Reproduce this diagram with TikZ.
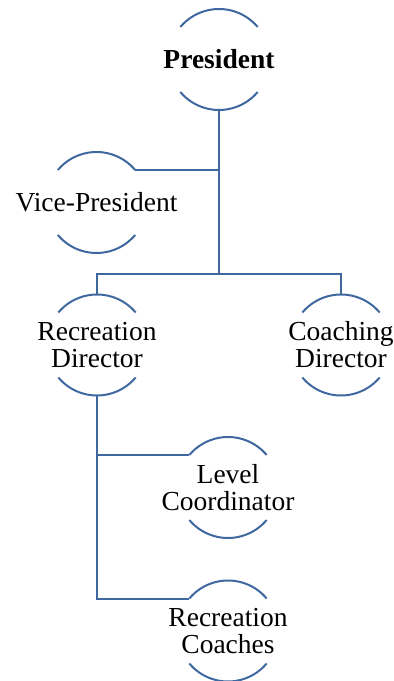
\documentclass[tikz,border=0pt]{standalone}
\usepackage{fontspec}
\setmainfont{Liberation Serif}
\usepackage{xcolor}
\definecolor{ringblue}{RGB}{63,104,160}

\begin{document}
\begin{tikzpicture}[x=1pt, y=1pt,
    ring_node/.style={circle, minimum size=101pt, inner sep=0pt, outer sep=0pt},
    ring_text/.style={align=center, font=\fontsize{27.5}{27}\selectfont},
    ring_bold/.style={align=center, font=\fontsize{27.5}{27}\selectfont\bfseries},
    ring_line/.style={draw=ringblue, line width=2pt}]

    \useasboundingbox (0,0) rectangle (394,681);

    \node[ring_node, label={[ring_bold]center:President}] (president) at (219, 621.5) {};
    \node[ring_node, label={[ring_text]center:Vice-President}] (vp) at (96.5, 478.5) {};
    \node[ring_node, label={[ring_text]center:Recreation\\Director}] (recdir) at (97, 336) {};
    \node[ring_node, label={[ring_text]center:Coaching\\Director}] (coachdir) at (341, 336) {};
    \node[ring_node, label={[ring_text]center:Level\\Coordinator}] (level) at (228, 193.5) {};
    \node[ring_node, label={[ring_text]center:Recreation\\Coaches}] (coaches) at (228, 50) {};
    \coordinate (bar) at (219, 407);

    \foreach \n in {president, vp, recdir, coachdir, level, coaches} {
        \draw[ring_line] (\n.40) arc[start angle=40, end angle=140, radius=50.5pt];
        \draw[ring_line] (\n.220) arc[start angle=220, end angle=320, radius=50.5pt];
    }

    \draw[ring_line] (president.south) -- (bar);
    \draw[ring_line] (president.south) |- (vp.40);
    \draw[ring_line] (recdir.north) |- (bar) -| (coachdir.north);
    \draw[ring_line] (recdir.south) |- (level.140);
    \draw[ring_line] (recdir.south) |- (coaches.140);
\end{tikzpicture}
\end{document}
